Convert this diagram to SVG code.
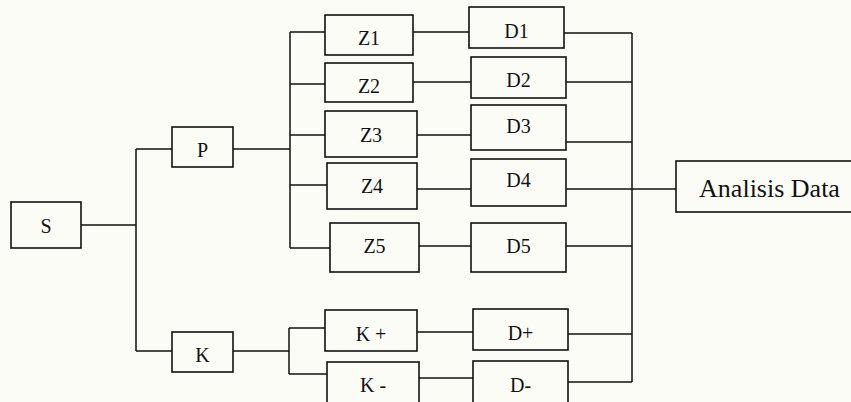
<svg xmlns="http://www.w3.org/2000/svg" width="851" height="402" viewBox="0 0 851 402">
<style>
.box{fill:none;stroke:#111;stroke-width:1.6}
.lbl{font-family:"Liberation Serif","Times New Roman",serif;font-size:20px;fill:#111;text-anchor:middle}
.big{font-size:26px}
#connectors line{stroke:#111;stroke-width:1.5}
</style>
<rect x="0" y="0" width="851" height="402" fill="#fcfcf7"/>
<g id="connectors">
<line x1="81" y1="225" x2="136" y2="225"/>
<line x1="136" y1="149" x2="136" y2="351"/>
<line x1="136" y1="149" x2="172" y2="149"/>
<line x1="136" y1="351" x2="172" y2="351"/>
<line x1="233" y1="149" x2="290" y2="149"/>
<line x1="290" y1="32" x2="290" y2="248"/>
<line x1="290" y1="32" x2="325" y2="32"/>
<line x1="290" y1="84" x2="325" y2="84"/>
<line x1="290" y1="135" x2="325" y2="135"/>
<line x1="290" y1="185" x2="327" y2="185"/>
<line x1="290" y1="248" x2="330" y2="248"/>
<line x1="413" y1="32" x2="469" y2="32"/>
<line x1="413" y1="82" x2="471" y2="82"/>
<line x1="417" y1="135" x2="471" y2="135"/>
<line x1="417" y1="189" x2="471" y2="189"/>
<line x1="419" y1="246" x2="471" y2="246"/>
<line x1="564" y1="33" x2="632" y2="33"/>
<line x1="566" y1="82" x2="632" y2="82"/>
<line x1="566" y1="142" x2="632" y2="142"/>
<line x1="566" y1="189" x2="676" y2="189"/>
<line x1="566" y1="246" x2="632" y2="246"/>
<line x1="568" y1="334" x2="632" y2="334"/>
<line x1="568" y1="382" x2="632" y2="382"/>
<line x1="632" y1="33" x2="632" y2="382"/>
<line x1="233" y1="351" x2="289" y2="351"/>
<line x1="289" y1="328" x2="289" y2="374"/>
<line x1="289" y1="328" x2="325" y2="328"/>
<line x1="289" y1="374" x2="327" y2="374"/>
<line x1="417" y1="332" x2="473" y2="332"/>
<line x1="419" y1="378" x2="473" y2="378"/>
</g>
<g id="S"><rect class="box" x="11" y="202" width="70" height="46"/><text class="lbl" x="46" y="233">S</text></g>
<g id="P"><rect class="box" x="172" y="127" width="61" height="40"/><text class="lbl" x="202.5" y="157">P</text></g>
<g id="K"><rect class="box" x="172" y="332" width="61" height="40"/><text class="lbl" x="202.5" y="362">K</text></g>
<g id="Z1"><rect class="box" x="325" y="15" width="88" height="40"/><text class="lbl" x="369" y="45">Z1</text></g>
<g id="Z2"><rect class="box" x="325" y="63" width="88" height="39"/><text class="lbl" x="369" y="93">Z2</text></g>
<g id="Z3"><rect class="box" x="325" y="111" width="92" height="46"/><text class="lbl" x="371" y="142">Z3</text></g>
<g id="Z4"><rect class="box" x="327" y="163" width="90" height="46"/><text class="lbl" x="372" y="193">Z4</text></g>
<g id="Z5"><rect class="box" x="330" y="223" width="89" height="49"/><text class="lbl" x="374.5" y="253">Z5</text></g>
<g id="Kplus"><rect class="box" x="325" y="310" width="92" height="41"/><text class="lbl" x="371" y="341">K +</text></g>
<g id="Kminus"><rect class="box" x="327" y="362" width="92" height="46"/><text class="lbl" x="373" y="392">K -</text></g>
<g id="D1"><rect class="box" x="469" y="7" width="95" height="41"/><text class="lbl" x="516.5" y="38">D1</text></g>
<g id="D2"><rect class="box" x="471" y="57" width="95" height="41"/><text class="lbl" x="518.5" y="87">D2</text></g>
<g id="D3"><rect class="box" x="471" y="105" width="95" height="45"/><text class="lbl" x="518.5" y="133">D3</text></g>
<g id="D4"><rect class="box" x="471" y="159" width="95" height="47"/><text class="lbl" x="518.5" y="187">D4</text></g>
<g id="D5"><rect class="box" x="471" y="223" width="95" height="49"/><text class="lbl" x="518.5" y="253">D5</text></g>
<g id="Dplus"><rect class="box" x="473" y="309" width="95" height="41"/><text class="lbl" x="520.5" y="340">D+</text></g>
<g id="Dminus"><rect class="box" x="473" y="361" width="95" height="47"/><text class="lbl" x="520.5" y="392">D-</text></g>
<g id="Analisis"><rect class="box" x="676" y="161" width="188" height="51"/><text class="lbl big" x="769.5" y="197">Analisis Data</text></g>
</svg>
